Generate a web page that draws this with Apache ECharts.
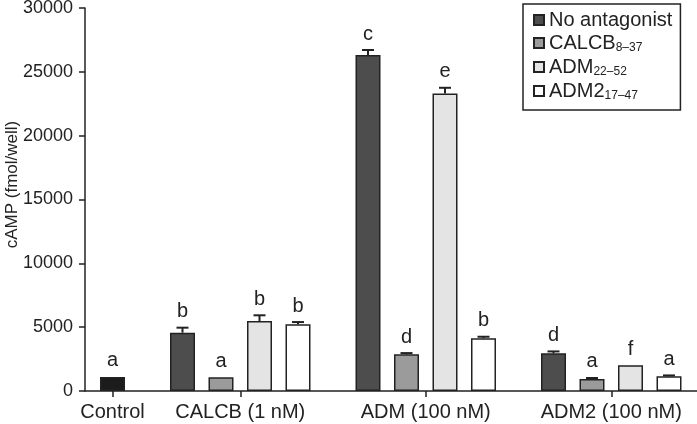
<!DOCTYPE html>
<html>
<head>
<meta charset="utf-8">
<script src="https://cdn.jsdelivr.net/npm/echarts@6/dist/echarts.min.js"></script>
<style>
  html, body { margin: 0; padding: 0; background: #fff; }
  #chart { width: 697px; height: 424px; }
</style>
</head>
<body>
<div id="chart"></div>
<script>
  /** groups on the x axis */
  const groups = ['Control', 'CALCB (1 nM)', 'ADM (100 nM)', 'ADM2 (100 nM)']
  /** antagonist series (legend) */
  const treatments = ['No antagonist', 'CALCB8-37', 'ADM22-52', 'ADM2 17-47']

  /** control bar */
  const controlValue = 1100
  const controlErr = 0
  const controlLetter = 'a'

  /** values for CALCB, ADM, ADM2 groups, per antagonist */
  const noAntagonist = [4570, 26310, 2950]
  const calcbAnt = [1070, 2870, 940]
  const admAnt = [5480, 23310, 2010]
  const adm2Ant = [5220, 4130, 1150]

  /** SEM */
  const noAntagonistErr = [390, 400, 150]
  const calcbAntErr = [0, 100, 80]
  const admAntErr = [450, 440, 0]
  const adm2AntErr = [180, 120, 70]

  /** significance letters */
  const noAntagonistLetters = ['b', 'c', 'd']
  const calcbAntLetters = ['a', 'd', 'a']
  const admAntLetters = ['b', 'e', 'f']
  const adm2AntLetters = ['b', 'b', 'a']

  const yTicks = [0, 5000, 10000, 15000, 20000, 25000, 30000]

  /** layout of bar slots along the x axis (pixel-like units) */
  const slot = 38.5
  const ctrlX = 27.5
  const groupStep = 185.5
  const firstGroupX = 97.5
  const barX = (g, i) => firstGroupX + g * groupStep + i * slot
  const groupCenters = [ctrlX].concat([0, 1, 2].map(g => barX(g, 1.5)))

  const values = [noAntagonist, calcbAnt, admAnt, adm2Ant]
  const errs = [noAntagonistErr, calcbAntErr, admAntErr, adm2AntErr]
  const letters = [noAntagonistLetters, calcbAntLetters, admAntLetters, adm2AntLetters]
  const colors = ['#4d4d4d', '#9b9b9b', '#e4e4e4', '#ffffff']
  const edge = '#222'
  const font = '"Liberation Sans", Arial, sans-serif'

  /** error bar points + letters */
  const errData = [[ctrlX, controlValue, controlErr]]
  const errLetters = [controlLetter]
  for (let g = 0; g < 3; g++) {
    for (let i = 0; i < 4; i++) {
      errData.push([barX(g, i), values[i][g], errs[i][g]])
      errLetters.push(letters[i][g])
    }
  }

  const legendRich = {
    'No antagonist': '{n|No antagonist}',
    'CALCB8-37': '{n|CALCB}{s|8–37}',
    'ADM22-52': '{n|ADM}{s|22–52}',
    'ADM2 17-47': '{n|ADM2}{s|17–47}'
  }

  const barSeries = treatments.map((name, i) => ({
    name: name,
    type: 'bar',
    barWidth: 25,
    barGap: '-100%',
    itemStyle: { color: colors[i], borderColor: edge, borderWidth: 1.5 },
    data: [0, 1, 2].map(g => [barX(g, i), values[i][g]])
  }))

  const chart = echarts.init(document.getElementById('chart'))
  chart.setOption({
    animation: false,
    textStyle: { fontFamily: font, color: '#222' },
    grid: { left: 85, right: 0, top: 8, bottom: 33, containLabel: false, outerBoundsMode: 'none' },
    legend: {
      data: treatments,
      orient: 'vertical',
      left: 523,
      top: 4,
      padding: [6, 8, 8, 10],
      itemGap: 3,
      itemWidth: 10,
      itemHeight: 10,
      icon: 'rect',
      backgroundColor: '#fff',
      borderColor: '#222',
      borderWidth: 1.5,
      borderRadius: 0,
      formatter: name => legendRich[name],
      textStyle: {
        fontFamily: font,
        color: '#222',
        rich: {
          n: { fontSize: 20, fontFamily: font, color: '#222', lineHeight: 22 },
          s: { fontSize: 12, fontFamily: font, color: '#222', verticalAlign: 'bottom', lineHeight: 22, padding: [9, 0, 0, 0] }
        }
      }
    },
    xAxis: {
      type: 'value',
      min: 0,
      max: 612,
      splitLine: { show: false },
      axisLine: { show: true, onZero: false, lineStyle: { color: edge, width: 1.5 } },
      axisTick: { show: true, customValues: groupCenters, length: 6, lineStyle: { color: edge, width: 1.5 } },
      axisLabel: {
        customValues: groupCenters,
        fontSize: 20,
        color: '#222',
        margin: 11,
        formatter: v => {
          let best = 0
          groupCenters.forEach((c, k) => { if (Math.abs(c - v) < Math.abs(groupCenters[best] - v)) best = k })
          return groups[best]
        }
      }
    },
    yAxis: {
      type: 'value',
      min: 0,
      max: yTicks[yTicks.length - 1],
      interval: 5000,
      name: 'cAMP (fmol/well)',
      nameLocation: 'middle',
      nameGap: 64,
      nameMoveOverlap: false,
      nameTextStyle: { fontSize: 17, color: '#222', padding: [0, 0, 0, 30] },
      splitLine: { show: false },
      axisLine: { show: true, lineStyle: { color: edge, width: 1.5 } },
      axisTick: { show: true, length: 6, lineStyle: { color: edge, width: 1.5 } },
      axisLabel: { fontSize: 18, color: '#222', margin: 12, formatter: v => String(v) }
    },
    series: [
      {
        name: 'Control',
        type: 'bar',
        barWidth: 25,
        barGap: '-100%',
        itemStyle: { color: '#1c1c1c', borderColor: edge, borderWidth: 1.5 },
        data: [[ctrlX, controlValue]]
      }
    ].concat(barSeries).concat([
      {
        type: 'custom',
        z: 10,
        data: errData,
        renderItem: (params, api) => {
          const x = api.value(0)
          const y = api.value(1)
          const e = api.value(2)
          const base = api.coord([x, y])
          const top = api.coord([x, y + e])
          const children = []
          if (e > 0) {
            children.push({
              type: 'line',
              shape: { x1: base[0], y1: base[1], x2: top[0], y2: top[1] },
              style: { stroke: edge, lineWidth: 2 }
            })
            children.push({
              type: 'line',
              shape: { x1: top[0] - 6, y1: top[1], x2: top[0] + 6, y2: top[1] },
              style: { stroke: edge, lineWidth: 2 }
            })
          }
          children.push({
            type: 'text',
            style: {
              x: top[0],
              y: top[1] - 6,
              text: errLetters[params.dataIndex],
              align: 'center',
              verticalAlign: 'bottom',
              fontSize: 20,
              fontFamily: font,
              fill: '#222'
            }
          })
          return { type: 'group', children: children }
        }
      }
    ])
  })
</script>
</body>
</html>
